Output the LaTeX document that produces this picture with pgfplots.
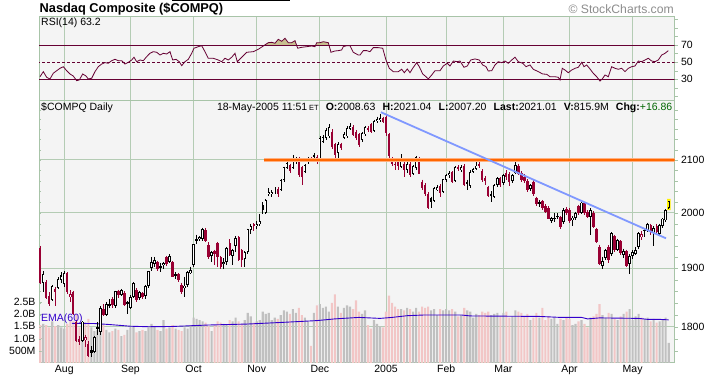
\documentclass[border=0pt]{standalone}
\usepackage{fontspec}
\setmainfont{Liberation Sans}
\usepackage{pgfplots}
\pgfplotsset{compat=1.18}
\usepackage{pgfplotstable}
\definecolor{bgc}{HTML}{F4F4F4}
\definecolor{gridc}{HTML}{B4CCB4}
\definecolor{framec}{HTML}{A8C4A8}
\definecolor{candr}{HTML}{990033}
\definecolor{rsic}{HTML}{660033}
\definecolor{rsifill}{HTML}{C8C090}
\definecolor{volg}{HTML}{C0C0C0}
\definecolor{volp}{HTML}{F2C6C6}
\definecolor{emac}{HTML}{3300CC}
\definecolor{trendc}{HTML}{8098FF}
\definecolor{orc}{HTML}{FF6600}
\definecolor{orl}{HTML}{FFB080}
\definecolor{chgc}{HTML}{006600}

\pgfplotstableread{
i O H L C V k
-8 1936 1940 1873 1874.4 1.55 2
-7 1874 1895 1858 1889.1 1.60 1
-6 1876 1879 1846 1849.1 1.55 2
-5 1852 1858 1835 1839.0 1.45 2
-4 1845 1871 1843 1869.1 1.70 1
-3 1864 1868 1834 1858.3 1.50 2
-2 1866 1884 1864 1881.1 1.55 1
-1 1879 1893 1875 1887.4 1.45 1
0 1872 1895 1868 1892.1 1.40 1
1 1891 1893 1855 1859.4 1.60 2
2 1850 1862 1842 1855.1 1.75 4
3 1859 1861 1819 1821.6 1.70 2
4 1807 1811 1775 1776.9 2.00 2
5 1780 1784 1770 1774.6 1.45 2
6 1776 1809 1774 1808.7 1.50 1
7 1778 1787 1767 1782.4 1.65 4
8 1772 1776 1750.8 1752.5 1.80 2
9 1762 1768 1750 1757.2 1.45 3
10 1758 1784 1756 1782.4 1.30 1
11 1799 1808 1787 1795.3 1.35 3
12 1791 1835 1787 1831.4 1.50 1
13 1830 1838 1817 1819.9 1.55 2
14 1819 1842 1817 1838.0 1.35 1
15 1836 1846 1832 1838.7 1.25 1
16 1846 1850 1832 1836.9 1.30 2
17 1835 1861 1832 1860.0 1.40 1
18 1860 1863 1849 1852.9 1.35 2
19 1853 1864 1851 1862.1 1.10 1
20 1857 1860 1835 1836.5 1.15 2
21 1841 1843 1822 1838.1 1.35 3
22 1832 1853 1830 1850.4 1.45 1
23 1850 1876 1848 1873.4 1.50 1
24 1862 1865 1841 1844.5 1.25 2
25 1848 1861 1845 1858.6 1.30 1
26 1857 1859 1846 1850.4 1.35 2
27 1852 1871 1846 1869.6 1.30 1
28 1869 1896 1866 1894.3 1.45 1
29 1901 1920 1895 1910.4 1.60 1
30 1907 1920 1903 1915.4 1.50 1
31 1911 1913 1896 1898.4 1.35 2
32 1901 1910 1893 1904.1 1.30 1
33 1906 1911 1899 1910.1 1.75 1
34 1920 1922 1904 1906.9 1.40 2
35 1911 1925 1909 1921.2 1.45 1
36 1911 1913 1885 1885.7 1.55 2
37 1889 1893 1881 1886.5 1.40 3
38 1890 1892 1876 1879.5 1.35 2
39 1871 1875 1856 1859.4 1.30 2
40 1866 1885 1850 1869.9 1.45 1
41 1870 1895 1868 1893.9 1.40 1
42 1891 1903 1889 1896.8 1.55 1
43 1905 1943 1903 1942.2 1.85 1
44 1950 1960 1943 1952.4 1.80 1
45 1952 1958 1948 1955.5 1.75 1
46 1952 1973 1948 1971.0 1.70 1
47 1969 1972 1946 1948.5 1.65 2
48 1942 1946 1917 1919.9 1.50 2
49 1922 1931 1911 1928.8 1.30 1
50 1930 1933 1905 1925.2 1.55 2
51 1945 1947 1903 1920.5 1.70 2
52 1920 1922 1899 1903.0 1.65 2
53 1908 1918 1899 1911.5 1.60 1
54 1912 1938 1905 1936.5 1.55 1
55 1945 1952 1921 1922.9 1.75 2
56 1922 1935 1905 1932.9 1.70 1
57 1940 1958 1928 1953.6 1.85 1
58 1955 1958 1912 1915.1 1.70 2
59 1932 1934 1903 1914.0 1.60 2
60 1916 1930 1903 1928.8 1.75 1
61 1929 1971 1926 1969.6 2.05 1
62 1968 1980 1962 1975.7 1.90 1
63 1979 1981 1966 1975.0 1.65 2
64 1975 1985 1970 1979.9 1.70 1
65 1979 1998 1975 1984.8 1.75 1
66 2015 2020 1997 2004.3 2.10 3
67 2000 2025 1997 2023.6 2.00 1
68 2034 2046 2032 2038.9 2.05 1
69 2035 2042 2030 2039.3 1.75 1
70 2039 2048 2035 2043.3 1.85 1
71 2044 2048 2030 2034.6 1.80 2
72 2042 2063 2040 2061.3 1.95 1
73 2061 2087 2058 2085.3 2.15 1
74 2085 2096 2082 2094.1 2.10 1
75 2090 2093 2075 2078.6 2.00 2
76 2084 2110 2082 2099.7 2.20 1
77 2098 2106 2092 2104.3 2.05 1
78 2103 2106 2068 2070.6 2.25 2
79 2087 2088 2052 2068.0 1.95 2
80 2077 2092 2075 2090.0 1.85 1
81 2097 2106 2093 2102.5 1.70 1
82 2104 2106 2098 2101.3 0.70 2
83 2109 2113 2100 2106.9 2.05 3
84 2106 2110 2093 2096.8 2.35 2
85 2100 2146 2098 2143.6 2.40 1
86 2136 2149 2133 2145.5 2.25 1
87 2144 2162 2140 2159.4 2.30 1
88 2146 2170 2143 2165.3 2.10 1
89 2155 2160 2122 2125.7 2.45 2
90 2132 2134 2097 2110.0 2.80 2
91 2114 2135 2100 2131.7 2.30 1
92 2132 2134 2120 2123.8 2.05 2
93 2144 2154 2141 2151.5 2.25 1
94 2146 2166 2143 2163.4 2.35 1
95 2161 2172 2158 2167.3 2.30 1
96 2165 2168 2147 2149.5 2.20 2
97 2155 2158 2140 2143.6 2.55 2
98 2150 2152 2126 2129.7 2.10 2
99 2140 2155 2136 2153.5 2.00 1
100 2150 2167 2147 2165.3 2.15 1
101 2163 2166 2154 2158.0 1.55 2
102 2170 2172 2152 2155.0 1.40 2
103 2157 2179 2155 2177.2 1.75 1
104 2176 2186 2172 2180.0 1.60 1
105 2178 2192 2175 2182.0 1.50 1
106 2182 2186 2173 2175.4 1.45 2
107 2186 2191 2146 2152.2 2.10 2
108 2150 2153 2104 2107.9 2.75 2
109 2100 2106 2088 2091.2 2.45 2
110 2093 2096 2080 2090.0 2.30 2
111 2097 2102 2080 2088.6 2.20 2
112 2087 2111 2084 2097.0 2.20 1
113 2093 2096 2068 2079.6 2.15 2
114 2081 2096 2074 2092.5 2.25 1
115 2092 2095 2068 2070.6 2.20 2
116 2073 2090 2070 2087.9 2.10 1
117 2084 2108 2080 2106.0 2.25 1
118 2104 2106 2072 2073.6 2.10 2
119 2058 2062 2043 2045.9 2.30 2
120 2052 2055 2031 2034.3 2.25 2
121 2034 2039 2006 2008.7 2.30 2
122 2027 2030 2008 2020.0 2.15 3
123 2021 2048 2019 2046.1 2.20 1
124 2043 2052 2040 2047.2 1.95 1
125 2050 2053 2030 2035.8 2.20 2
126 2038 2064 2036 2062.4 2.15 1
127 2062 2073 2058 2071.3 2.20 1
128 2071 2078 2066 2075.1 2.15 1
129 2076 2078 2055 2057.6 2.20 2
130 2060 2088 2058 2086.7 2.10 1
131 2087 2090 2078 2082.0 1.90 2
132 2080 2090 2077 2086.7 1.95 1
133 2089 2092 2050 2052.6 2.25 2
134 2058 2062 2042 2053.1 2.15 3
135 2050 2080 2046 2076.7 2.10 1
136 2077 2085 2074 2082.9 1.85 1
137 2082 2097 2080 2089.2 2.00 1
138 2092 2095 2084 2087.4 1.95 2
139 2078 2082 2058 2061.3 2.10 2
140 2066 2069 2052 2058.6 2.05 2
141 2048 2050 2029 2030.3 2.10 2
142 2035 2040 2020 2031.3 1.95 3
143 2030 2053 2028 2051.7 2.00 1
144 2052 2067 2048 2065.4 2.05 1
145 2065 2068 2048 2051.7 1.90 2
146 2056 2073 2052 2071.3 2.05 1
147 2075 2080 2062 2067.5 2.10 2
148 2072 2076 2050 2058.4 1.85 2
149 2060 2072 2055 2070.6 1.90 1
150 2074 2097 2072 2090.2 2.15 1
151 2088 2093 2070 2073.6 2.10 2
152 2075 2078 2058 2061.3 2.05 2
153 2068 2072 2055 2059.7 1.90 2
154 2060 2063 2038 2041.6 2.00 2
155 2044 2053 2040 2051.3 1.75 1
156 2058 2061 2032 2034.0 1.85 2
157 2028 2030 2012 2015.8 2.05 2
158 2019 2024 2011 2016.4 1.85 3
159 2021 2024 2005 2007.8 2.25 2
160 2013 2016 1999 2001.0 1.75 2
161 2009 2012 1988 1989.3 1.90 2
162 1985 1993 1981 1990.2 1.80 1
163 1988 2000 1984 1991.1 1.85 1
164 1995 1999 1988 1992.0 1.60 3
165 1992 1995 1971 1973.9 1.80 2
166 1983 2008 1980 2005.7 1.75 1
167 2006 2010 1996 1999.2 1.85 2
168 2005 2008 1982 1984.8 1.80 2
169 1987 1994 1975 1991.1 1.55 1
170 1990 2002 1986 1999.3 1.60 1
171 2013 2015 1996 1999.1 1.70 2
172 2000 2020 1998 2018.8 1.75 1
173 2018 2020 1996 1999.4 1.60 2
174 2001 2004 1990 1992.1 1.45 2
175 1993 2008 1960 2005.4 1.85 1
176 2000 2003 1972 1974.4 1.90 2
177 1970 1973 1945 1946.7 2.00 2
178 1938 1942 1906 1908.2 2.40 2
179 1904 1920 1899 1912.9 1.95 1
180 1918 1935 1914 1932.4 1.85 1
181 1938 1941 1910 1913.8 2.05 2
182 1925 1964 1922 1962.4 2.00 1
183 1958 1960 1928 1932.2 1.80 2
184 1933 1953 1930 1950.8 1.75 1
185 1948 1950 1924 1927.4 1.90 2
186 1924 1935 1918 1930.4 2.00 1
187 1930 1933 1902 1904.2 2.10 2
188 1908 1925 1889 1921.7 2.20 1
189 1922 1932 1917 1928.7 1.75 1
190 1926 1938 1923 1933.1 1.90 1
191 1937 1964 1935 1962.2 2.00 1
192 1955 1966 1950 1961.8 1.85 4
193 1968 1972 1955 1967.4 1.80 3
194 1968 1982 1965 1979.7 1.85 1
195 1978 1980 1960 1962.8 1.70 2
196 1963 1975 1940 1971.6 1.80 1
197 1976 1980 1960 1963.9 1.65 2
198 1962 1980 1960 1976.8 1.70 1
199 1975 1991 1972 1989.3 1.75 1
200 1986 2006 1984 2004.2 1.85 1
201 2008.6 2021.0 2007.2 2021.0 0.82 5
}\prices

\pgfplotstableread{
i r
-8.08 33.0
-6.98 38.9
-5.85 32.3
-4.76 30.4
-3.66 37.0
-2.53 40.0
-1.43 42.8
-0.33 44.7
0.80 40.0
1.90 36.2
2.99 33.8
4.12 28.4
4.99 29.2
6.12 36.2
7.22 33.8
7.98 30.4
9.11 31.2
10.21 38.9
11.31 44.7
12.44 47.8
13.54 49.4
14.63 48.7
15.76 51.7
16.86 53.3
17.96 51.7
19.09 51.7
20.19 47.8
21.28 49.8
22.41 52.5
23.18 55.7
24.08 50.5
25.17 52.5
26.27 51.7
27.40 56.4
28.50 60.3
29.60 62.2
30.73 61.5
31.83 58.3
32.92 60.3
34.05 59.5
35.15 62.2
36.05 52.5
37.15 53.3
38.24 50.5
39.04 45.9
40.14 50.5
41.24 53.3
42.37 60.3
43.13 66.2
44.56 68.0
45.69 69.2
46.79 62.2
47.89 54.5
49.55 54.5
51.21 52.5
52.35 50.5
53.44 54.5
54.54 52.5
55.67 55.7
56.77 60.3
57.53 50.5
58.66 54.5
60.66 61.5
62.85 62.2
64.52 65.0
66.18 68.8
67.84 72.7
68.97 73.1
70.07 72.0
71.17 76.6
72.30 74.3
73.40 77.8
74.49 72.7
75.62 72.7
76.72 75.0
77.62 66.2
78.95 67.3
80.61 68.0
82.27 68.8
83.37 68.0
83.94 72.7
85.03 72.7
86.13 73.8
87.80 72.7
88.69 61.5
90.02 63.0
91.12 63.4
92.25 64.2
92.78 68.0
93.91 69.2
95.01 69.2
96.11 61.5
97.77 58.3
98.34 58.3
99.43 63.4
100.57 63.4
101.66 62.2
102.76 66.9
104.42 66.9
105.89 66.2
106.98 52.5
108.08 42.8
109.41 38.9
111.07 38.9
112.20 41.7
113.07 37.7
114.07 42.0
114.97 37.7
115.86 42.8
117.19 49.4
118.06 44.7
119.19 36.2
120.29 33.0
121.05 30.4
122.18 35.0
123.28 40.0
124.94 40.0
126.04 45.5
127.37 48.7
128.27 45.5
129.37 51.3
130.70 50.5
131.59 51.3
132.92 44.0
134.02 45.5
135.15 52.5
136.58 53.7
138.01 52.5
139.14 46.7
140.24 44.7
141.00 39.7
142.14 40.0
143.23 46.7
144.33 50.5
145.46 49.4
146.56 51.3
147.66 48.7
148.79 52.5
149.89 55.7
150.98 50.5
152.45 48.7
153.54 44.7
154.87 46.7
155.97 41.7
157.63 38.9
159.10 36.2
160.43 35.8
161.53 33.0
163.19 33.0
164.28 32.3
164.85 29.2
165.61 42.8
166.51 40.8
167.61 37.7
168.74 40.8
169.84 42.8
170.94 44.0
172.07 49.8
172.83 44.7
173.73 46.7
174.83 42.0
175.92 37.0
177.05 33.0
178.15 28.0
178.91 30.4
179.81 35.0
180.91 33.0
182.04 44.7
183.14 42.8
184.24 41.7
185.37 42.8
186.46 38.9
187.56 42.8
188.69 44.7
189.79 45.5
190.89 51.3
192.02 50.5
193.12 52.5
194.21 54.5
195.34 51.3
196.44 50.5
197.54 52.5
198.67 58.3
199.77 60.3
200.87 63.4
}\rsidata

\pgfplotstableread{
i e
2.5 1.62
10 1.61
15 1.57
22 1.50
28 1.48
36 1.49
48 1.55
61 1.59
73 1.66
84 1.73
90 1.80
98 1.86
105 1.82
109 1.86
114 1.93
120 1.96
132 1.96
135 1.92
158 1.90
165 1.86
172 1.86
174 1.80
178 1.84
191 1.82
194 1.78
198 1.78
201 1.76
}\emadata

\pgfplotsset{
  panel/.style={scale only axis, width=635.5pt, xmin=-8.41, xmax=202.93,
    tick label style={font=\fontsize{10.5}{12}\selectfont}},
  cbar/.style={draw=none, mark=none, forget plot},
}

\begin{document}
\begin{tikzpicture}[x=1pt,y=1pt]
\useasboundingbox (0,0) rectangle (707,377);
\fill[black] (172,375.8) rectangle (290,377);

% ---------------- RSI panel
\begin{axis}[panel, at={(39pt,277pt)}, anchor=south west, height=84pt,
  ymin=5.86, ymax=103.8,
  axis background/.style={fill=bgc},
  axis line style={framec, line width=0.9pt},
  xtick={0,22,43,64,85,107,127,146,168,189}, xticklabels={},
  xmajorgrids, xtick style={draw=none},
  grid style={gridc, line width=1pt},
  ytick={30,50,70}, yticklabels={30,50,70},
  minor ytick={10,20,40,60,80,90,100},
  ytick pos=right, yticklabel pos=right,
  tick align=outside, major tick length=3pt, minor tick length=3pt,
  ytick style={framec}, minor tick style={framec}]
  \addplot[fill=rsifill, draw=none, forget plot] coordinates {(66.69,70) (67.84,72.7) (68.97,73.1) (70.07,72.0) (71.17,76.6) (72.30,74.3) (73.40,77.8) (74.49,72.7) (75.62,72.7) (76.72,75.0) (77.23,70)};
  \addplot[fill=rsifill, draw=none, forget plot] coordinates {(83.61,70) (83.94,72.7) (85.03,72.7) (86.13,73.8) (87.80,72.7) (88.01,70)};
  \addplot[fill=rsifill, draw=none, forget plot] coordinates {(3.79,30) (4.12,28.4) (4.99,29.2) (5.12,30)};
  \addplot[fill=rsifill, draw=none, forget plot] coordinates {(164.70,30) (164.85,29.2) (164.89,30)};
  \addplot[fill=rsifill, draw=none, forget plot] coordinates {(177.71,30) (178.15,28.0) (178.78,30)};
  \addplot[rsic, line width=0.9pt, forget plot] coordinates {(-9,70) (203,70)};
  \addplot[rsic, line width=0.9pt, forget plot] coordinates {(-9,30) (203,30)};
  \addplot[rsic, line width=0.9pt, dashed, dash pattern=on 3pt off 2pt, forget plot] coordinates {(-9,50) (203,50)};
  \addplot[rsic, line width=0.8pt, forget plot] table[x=i,y=r]{\rsidata};
\end{axis}

% ---------------- Main panel: frame, grid, labels
\begin{axis}[panel, at={(39pt,14pt)}, anchor=south west, height=262pt,
  ymode=log, ymin=1740.6, ymax=2217.8,
  axis background/.style={fill=bgc},
  axis line style={framec, line width=0.9pt},
  xtick={0,22,43,64,85,107,127,146,168,189},
  xticklabels={Aug,Sep,Oct,Nov,Dec,2005,Feb,Mar,Apr,May},
  xticklabel style={yshift=4.5pt},
  xmajorgrids, xtick style={draw=none},
  grid style={gridc, line width=1pt},
  ytick={1800,1900,2000,2100}, yticklabels={1800,1900,2000,2100},
  minor ytick={1760,1780,1820,1840,1860,1880,1920,1940,1960,1980,2020,2040,2060,2080,2120,2140,2160,2180,2200},
  ymajorgrids,
  ytick pos=right, yticklabel pos=right,
  tick align=outside, major tick length=3pt, minor tick length=3pt,
  ytick style={framec}, minor tick style={framec}]
  \addplot[draw=none, forget plot] coordinates {(0,1900)};
\end{axis}

% ---------------- Volume
\begin{axis}[panel, at={(39pt,14pt)}, anchor=south west, height=262pt,
  ymin=0, ymax=10.69, hide x axis,
  axis line style={draw=none},
  ytick={0.5,1,1.5,2,2.5}, yticklabels={500M,1.0B,1.5B,2.0B,2.5B},
  ytick pos=left, tick align=inside, major tick length=3pt, ytick style={framec}]
  \addplot[ybar, bar width=2.1pt, bar shift=0pt, draw=none, fill=volg, forget plot,
    restrict expr to domain={mod(\thisrow{k},2)}{1:1}] table[x=i,y=V]{\prices};
  \addplot[ybar, bar width=2.1pt, bar shift=0pt, draw=none, fill=volp, forget plot,
    restrict expr to domain={mod(\thisrow{k},2)}{0:0}] table[x=i,y=V]{\prices};
  \addplot[emac, line width=0.9pt, forget plot] table[x=i,y=e]{\emadata};
\end{axis}

% ---------------- Candles
\begin{axis}[panel, at={(39pt,14pt)}, anchor=south west, height=262pt,
  ymode=log, ymin=1740.6, ymax=2217.8, hide x axis,
  axis line style={draw=none},
  ytick={1760,1780,1800,1820,1840,1860,1880,1900,1920,1940,1960,1980,2000,2020,2040,2060,2080,2100,2120,2140,2160,2180,2200},
  yticklabels={}, ytick pos=left, tick align=inside, major tick length=2.5pt, ytick style={framec}]
  \addplot[fill=yellow, draw=none, forget plot] coordinates {(200.45,2004.5) (201.6,2004.5) (201.6,2025.5) (200.45,2025.5) (200.45,2004.5)};
  \addplot[cbar, restrict expr to domain={mod(\thisrow{k},2)}{1:1},
    error bars/.cd, y dir=both, y explicit, error mark=none,
    error bar style={draw=black, line width=0.55pt}]
    table[x=i, y=H, y error plus expr=0, y error minus expr={\thisrow{H}-\thisrow{L}}]{\prices};
  \addplot[cbar, restrict expr to domain={mod(\thisrow{k},2)}{0:0},
    error bars/.cd, y dir=both, y explicit, error mark=none,
    error bar style={draw=candr, line width=0.55pt}]
    table[x=i, y=H, y error plus expr=0, y error minus expr={\thisrow{H}-\thisrow{L}}]{\prices};
  \addplot[cbar, restrict expr to domain={\thisrow{k}}{2:2},
    error bars/.cd, y dir=both, y explicit, error mark=none,
    error bar style={draw=candr, line width=2.3pt}]
    table[x=i, y expr={(\thisrow{O}+\thisrow{C})/2}, y error expr={max(abs(\thisrow{C}-\thisrow{O})/2,0.8)}]{\prices};
  \addplot[cbar, restrict expr to domain={\thisrow{k}}{3:3},
    error bars/.cd, y dir=both, y explicit, error mark=none,
    error bar style={draw=black, line width=2.3pt}]
    table[x=i, y expr={(\thisrow{O}+\thisrow{C})/2}, y error expr={max(abs(\thisrow{C}-\thisrow{O})/2,0.8)}]{\prices};
  \addplot[cbar, restrict expr to domain={(\thisrow{k}==1)+(\thisrow{k}==5)}{1:1},
    error bars/.cd, y dir=both, y explicit, error mark=none,
    error bar style={draw=black, line width=2.4pt}]
    table[x=i, y expr={(\thisrow{O}+\thisrow{C})/2}, y error expr={max(abs(\thisrow{C}-\thisrow{O})/2,0.9)}]{\prices};
  \addplot[cbar, restrict expr to domain={\thisrow{k}}{4:4},
    error bars/.cd, y dir=both, y explicit, error mark=none,
    error bar style={draw=candr, line width=2.4pt}]
    table[x=i, y expr={(\thisrow{O}+\thisrow{C})/2}, y error expr={max(abs(\thisrow{C}-\thisrow{O})/2,0.9)}]{\prices};
  \addplot[cbar, restrict expr to domain={(\thisrow{k}==1)+(\thisrow{k}==4)}{1:1},
    error bars/.cd, y dir=both, y explicit, error mark=none,
    error bar style={draw=white, line width=0.8pt}]
    table[x=i, y expr={(\thisrow{O}+\thisrow{C})/2}, y error expr={max(abs(\thisrow{C}-\thisrow{O})/2-1.7,0)}]{\prices};
  \addplot[cbar, restrict expr to domain={\thisrow{k}}{5:5},
    error bars/.cd, y dir=both, y explicit, error mark=none,
    error bar style={draw=yellow, line width=0.8pt}]
    table[x=i, y expr={(\thisrow{O}+\thisrow{C})/2}, y error expr={max(abs(\thisrow{C}-\thisrow{O})/2-1.7,0)}]{\prices};
  \addplot[orl, line width=3.6pt, forget plot] coordinates {(66.5,2100) (202.93,2100)};
  \addplot[orc, line width=1.7pt, forget plot] coordinates {(66.5,2100) (202.93,2100)};
  \addplot[trendc, line width=1.8pt, forget plot] coordinates {(105.3,2194.7) (200.1,1953.3)};
\end{axis}

% ---------------- Texts
\node[anchor=base west, inner sep=0, font=\bfseries\fontsize{12.8}{14}\selectfont] at (39.5,364.7) {Nasdaq Composite (\$COMPQ)};
\node[anchor=base east, inner sep=0, text=black!45, font=\fontsize{12.2}{14}\selectfont] at (674,363.7) {\textcopyright\ StockCharts.com};
\node[anchor=base west, inner sep=0, font=\fontsize{10.5}{12}\selectfont] at (41,351.7) {RSI(14) 63.2};
\node[anchor=base west, inner sep=0, font=\fontsize{10.5}{12}\selectfont] at (41,266) {\$COMPQ Daily};
\node[anchor=base east, inner sep=0, font=\fontsize{10.5}{12}\selectfont] at (672.5,266)
  {18-May-2005 11:51\,{\fontsize{7.5}{8}\selectfont ET}\hspace{0.68em}\textbf{O:}2008.63\hspace{0.68em}\textbf{H:}2021.04\hspace{0.68em}\textbf{L:}2007.20\hspace{0.68em}\textbf{Last:}2021.01\hspace{0.68em}\textbf{V:}815.9M\hspace{0.68em}\textbf{Chg:}\textcolor{chgc}{+16.86}};
\node[anchor=base west, inner sep=0, text=emac, font=\fontsize{10.5}{12}\selectfont] at (41,55.7) {EMA(60)};
\end{tikzpicture}
\end{document}
